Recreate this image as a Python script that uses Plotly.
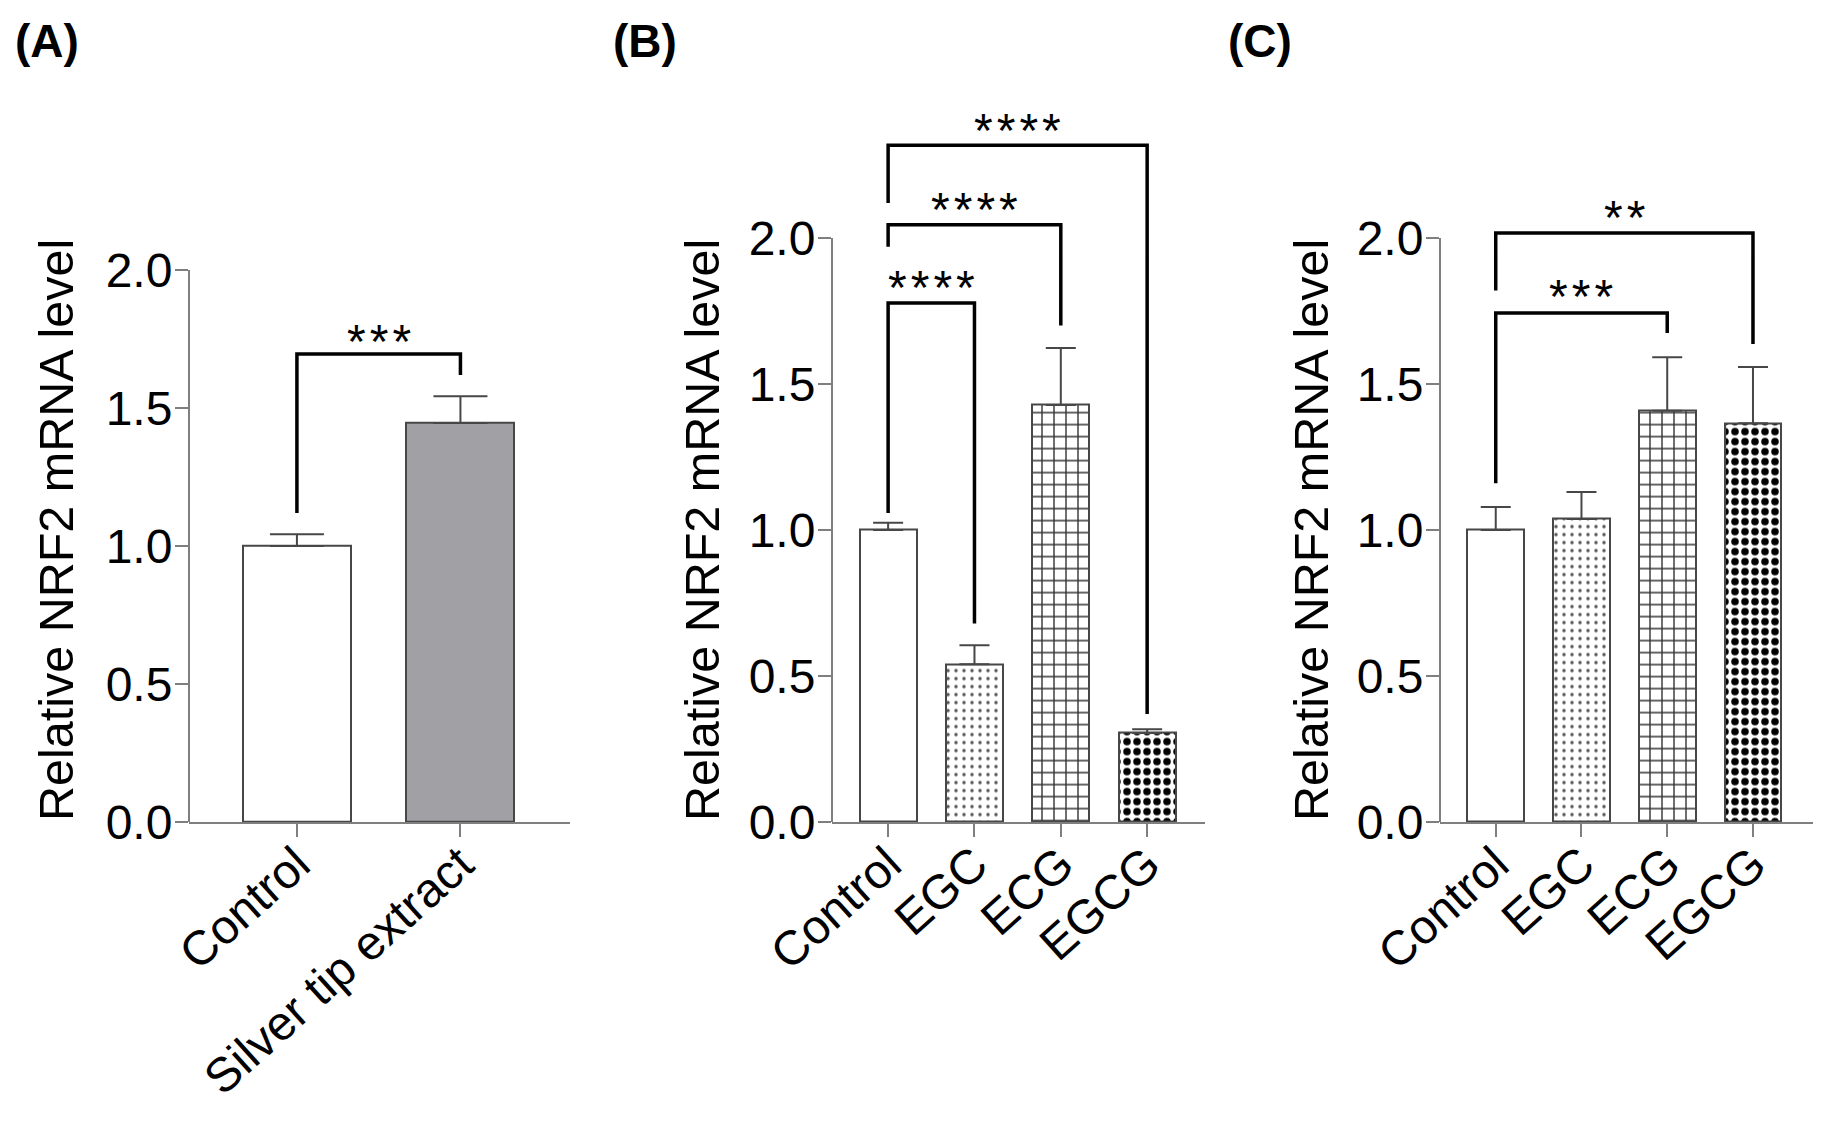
# -*- coding: utf-8 -*-
import plotly.graph_objects as go

# page is 1828x1125, the html body keeps its default 8px margin
W, H = 1828, 1125
OFF = 8
FW, FH = W - 2 * OFF, H - 2 * OFF

# ---- data ----
a_groups = ['Control', 'Silver tip extract']
a_means = [1.0, 1.446]
a_sems = [0.043, 0.097]

b_groups = ['Control', 'EGC', 'ECG', 'EGCG']
b_means = [1.0, 0.54, 1.428, 0.305]
b_sems = [0.025, 0.065, 0.195, 0.013]

c_groups = ['Control', 'EGC', 'ECG', 'EGCG']
c_means = [1.0, 1.038, 1.408, 1.366]
c_sems = [0.079, 0.092, 0.184, 0.192]

y_ticks = [0.0, 0.5, 1.0, 1.5, 2.0]
y_title = 'Relative NRF2 mRNA level'

# significance brackets: (group i, group j, left leg end, bar height, right leg end, label, label y)
a_sig = [(0, 1, 1.12, 1.696, 1.62, '***', 1.775)]
b_sig = [(0, 1, 1.058, 1.777, 0.68, '****', 1.86),
         (0, 2, 1.97, 2.045, 1.70, '****', 2.13),
         (0, 3, 2.12, 2.318, 0.37, '****', 2.40)]
c_sig = [(0, 2, 1.16, 1.743, 1.675, '***', 1.83),
         (0, 3, 1.82, 2.017, 1.637, '**', 2.10)]

FONT = 'Liberation Sans, Arial, sans-serif'
AXIS_GREY = '#7f7f7f'
EDGE = '#474747'
Y_MAX = 2.45
BOTTOM_PX = 822


def px_x(x):
    return (x - OFF) / FW


def px_y(y):
    return 1 - (y - OFF) / FH


# bar styles per group
a_styles = [dict(color='white'), dict(color='#a1a1a5')]
bc_styles = [
    dict(color='white'),
    dict(color='white', pattern=dict(shape='.', fgcolor='#555555', bgcolor='white', size=8, solidity=0.15)),
    dict(color='white', pattern=dict(shape='+', fgcolor='#333333', bgcolor='white', size=12, solidity=0.22)),
    dict(color='white', pattern=dict(shape='.', fgcolor='black', bgcolor='white', size=10, solidity=0.45)),
]

panels = [
    # suffix, groups, means, sems, styles, sig, x range, x px span, px per unit, cap half width, letter, letter x, title x
    ('', a_groups, a_means, a_sems, a_styles, a_sig, [-0.66, 1.67], (189, 570), 276, 27, '(A)', 13, 56),
    ('2', b_groups, b_means, b_sems, bc_styles, b_sig, [-0.65, 3.67], (832, 1205), 292, 15, '(B)', 611, 702),
    ('3', c_groups, c_means, c_sems, bc_styles, c_sig, [-0.65, 3.70], (1440, 1813), 292, 15, '(C)', 1226, 1311),
]

fig = go.Figure()
shapes = []
annotations = []
layout = {}

for suffix, groups, means, sems, styles, sig, xr, xspan, unit, capw, letter, letter_x, title_x in panels:
    xa = 'x' + suffix
    ya = 'y' + suffix
    for k, g in enumerate(groups):
        fig.add_trace(go.Bar(
            x=[g], y=[means[k]],
            width=0.66,
            marker=dict(**styles[k], line=dict(color=EDGE, width=2)),
            error_y=dict(type='data', array=[sems[k]], arrayminus=[0], symmetric=False,
                         color=EDGE, thickness=2, width=capw),
            xaxis=xa, yaxis=ya, showlegend=False,
        ))

    top_px = BOTTOM_PX - unit * Y_MAX
    layout['xaxis' + suffix] = dict(
        domain=[px_x(xspan[0]), px_x(xspan[1])], anchor=ya, type='category',
        categoryorder='array', categoryarray=groups, range=xr, automargin=False,
        showline=True, linecolor=AXIS_GREY, linewidth=2,
        ticks='outside', ticklen=13, tickwidth=2, tickcolor=AXIS_GREY,
        tickangle=-42, ticklabelstandoff=-20,
        tickfont=dict(family=FONT, size=48, color='black'),
        showgrid=False, zeroline=False, fixedrange=True,
    )
    layout['yaxis' + suffix] = dict(
        domain=[px_y(BOTTOM_PX), px_y(top_px)], anchor=xa, range=[0, Y_MAX], automargin=False,
        tickvals=y_ticks, ticktext=['%.1f' % v for v in y_ticks],
        showline=False, ticks='outside', ticklen=13, tickwidth=2, tickcolor=AXIS_GREY,
        ticklabelstandoff=-7,
        tickfont=dict(family=FONT, size=48, color='black'),
        showgrid=False, zeroline=False, fixedrange=True,
    )

    # y axis line only up to the last tick
    shapes.append(dict(type='line', xref=xa + ' domain', yref=ya, x0=0, x1=0,
                       y0=y_ticks[0], y1=y_ticks[-1], line=dict(color=AXIS_GREY, width=2)))

    # significance brackets
    for i, j, yl, yh, yr, label, ly in sig:
        shapes.append(dict(type='path', xref=xa, yref=ya,
                           path='M %s,%s L %s,%s L %s,%s L %s,%s' % (i, yl, i, yh, j, yh, j, yr),
                           line=dict(color='black', width=3.5)))
        annotations.append(dict(xref=xa, yref=ya, x=(i + j) / 2, y=ly, text='\u200a'.join(label),
                                showarrow=False, yshift=-9,
                                font=dict(family=FONT, size=48, color='black')))

    annotations.append(dict(xref='paper', yref='paper', x=px_x(letter_x), y=px_y(41),
                            xanchor='left', yanchor='middle', text='<b>%s</b>' % letter,
                            showarrow=False, font=dict(family=FONT, size=46, color='black')))
    annotations.append(dict(xref='paper', yref='paper', x=px_x(title_x), y=px_y(BOTTOM_PX),
                            xanchor='center', yanchor='bottom', textangle=-90, borderpad=0,
                            text=y_title, showarrow=False,
                            font=dict(family=FONT, size=48.5, color='black')))

fig.update_layout(
    template='none',
    width=FW, height=FH,
    margin=dict(l=0, r=0, t=0, b=0, pad=0, autoexpand=False),
    paper_bgcolor='white', plot_bgcolor='white',
    bargap=0, showlegend=False,
    shapes=shapes, annotations=annotations,
    **layout
)

fig.write_html('out.html')
